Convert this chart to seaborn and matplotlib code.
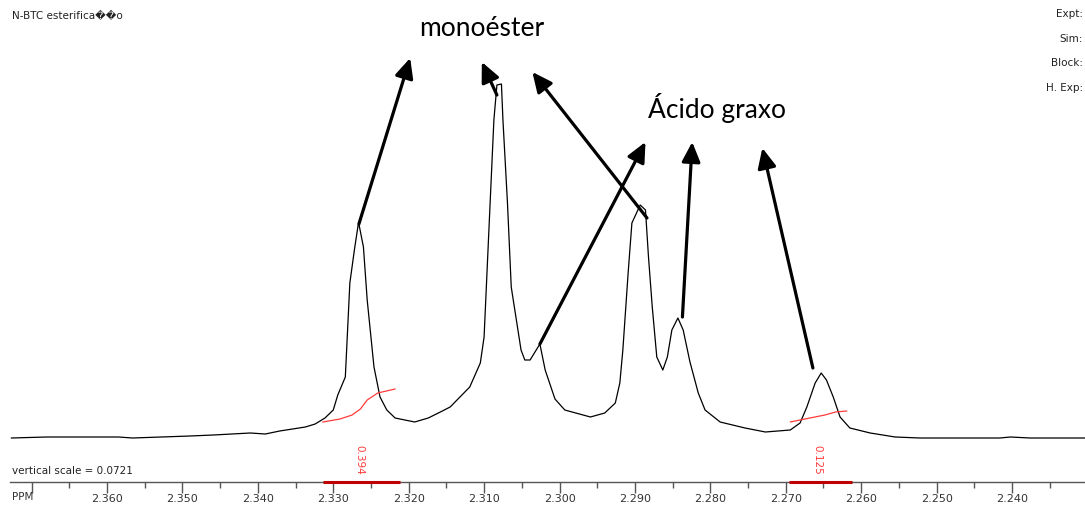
import numpy as np
import pandas as pd
import matplotlib
matplotlib.use("Agg")
import matplotlib.pyplot as plt
import seaborn as sns

# ---- data ----
ppm = [2.3727, 2.3680, 2.3585, 2.3566, 2.3490, 2.3459, 2.3410, 2.3390, 2.3371, 2.3337,
       2.3324, 2.3311, 2.3300, 2.3294, 2.3284, 2.3278, 2.3272, 2.3267, 2.3266, 2.3260,
       2.3255, 2.3246, 2.3238, 2.3229, 2.3218, 2.3192, 2.3174, 2.3158, 2.3145, 2.3119,
       2.3105, 2.3100, 2.3096, 2.3092, 2.3087, 2.3083, 2.3077, 2.3075, 2.3069, 2.3064,
       2.3051, 2.3046, 2.3039, 2.3026, 2.3019, 2.3006, 2.2993, 2.2959, 2.2940, 2.2926,
       2.2920, 2.2916, 2.2909, 2.2904, 2.2893, 2.2886, 2.2882, 2.2877, 2.2871, 2.2863,
       2.2857, 2.2851, 2.2843, 2.2836, 2.2827, 2.2816, 2.2807, 2.2787, 2.2754, 2.2727,
       2.2694, 2.2681, 2.2672, 2.2661, 2.2653, 2.2646, 2.2637, 2.2628, 2.2615, 2.2588,
       2.2555, 2.2522, 2.2416, 2.2402, 2.2376, 2.2303]
intensity = [0, 1, 1, 0, 2, 3, 5, 4, 7, 11,
             14, 20, 28, 43, 61, 155, 188, 213, 214, 191,
             138, 71, 41, 28, 20, 16, 20, 26, 31, 51,
             75, 101, 168, 235, 318, 353, 354, 318, 235, 151,
             88, 78, 78, 94, 68, 39, 28, 21, 25, 35,
             55, 88, 165, 215, 233, 228, 181, 131, 81, 68,
             81, 108, 120, 108, 76, 45, 28, 16, 10, 6,
             8, 15, 31, 55, 65, 58, 41, 21, 10, 5,
             1, 0, 0, 1, 0, 0]

# integral traces (red)
int1_ppm = [2.3314, 2.3291, 2.3275, 2.3264, 2.3255, 2.3241, 2.3218]
int1_val = [16, 19, 23, 29, 38, 45, 49]
int2_ppm = [2.2694, 2.2668, 2.2648, 2.2634, 2.2619]
int2_val = [16, 20, 23, 26, 27]

# integration regions and values
region_start = [2.3313, 2.2696]
region_end = [2.3211, 2.2612]
region_value = ["0.394", "0.125"]

# tick labels
major_ticks = [2.370, 2.360, 2.350, 2.340, 2.330, 2.320, 2.310, 2.300,
               2.290, 2.280, 2.270, 2.260, 2.250, 2.240]
major_labels = ["", "2.360", "2.350", "2.340", "2.330", "2.320", "2.310", "2.300",
                "2.290", "2.280", "2.270", "2.260", "2.250", "2.240"]

# annotation arrows: (tail ppm, tail intensity) -> (head ppm, head intensity)
arrow_tail_ppm = [2.3266, 2.3083, 2.2884, 2.3026, 2.2837, 2.2664]
arrow_tail_int = [214, 343, 220, 94, 121, 70]
arrow_head_ppm = [2.3198, 2.3103, 2.3036, 2.2886, 2.2824, 2.2731]
arrow_head_int = [380, 376, 366, 296, 296, 290]

# ---- figure ----
sns.set_style("white")
plt.rcParams['font.family'] = ['DejaVu Sans']

W, H = 1085, 507
fig = plt.figure(figsize=(W / 100, H / 100), dpi=100)
ax = fig.add_axes([10 / W, (H - 482) / H, (W - 10) / W, 482 / H])

df = pd.DataFrame({"ppm": ppm, "intensity": intensity})
sns.lineplot(data=df, x="ppm", y="intensity", sort=False, color="black",
             linewidth=0.9, ax=ax, estimator=None)
ax.plot(int1_ppm, int1_val, color="#ff3b3b", lw=0.9)
ax.plot(int2_ppm, int2_val, color="#ff3b3b", lw=0.9)

xmin_ppm = 2.360 + 97 / 7540
xmax_ppm = 2.240 - 73 / 7540
ax.set_xlim(xmin_ppm, xmax_ppm)
ymin = -44
ax.set_ylim(ymin, 438)

for s, e in zip(region_start, region_end):
    ax.plot([s, e], [ymin, ymin], color="#c00000", lw=2.2, clip_on=False,
            solid_capstyle="butt", zorder=5)
for s, e, v in zip(region_start, region_end, region_value):
    ax.text((s + e) / 2 + 0.0004, -22, v, rotation=270, color="#ff3b3b",
            fontsize=7.5, ha="center", va="center")

for tp, ti, hp, hi in zip(arrow_tail_ppm, arrow_tail_int, arrow_head_ppm, arrow_head_int):
    ax.annotate("", xy=(hp, hi), xytext=(tp, ti),
                arrowprops=dict(arrowstyle="-|>,head_length=0.6,head_width=0.28",
                                mutation_scale=20, lw=2.3, color="black",
                                shrinkA=0, shrinkB=0))

ax.set_xticks(major_ticks)
ax.set_xticklabels(major_labels)
ax.set_xticks([t + 0.005 for t in major_ticks[1:]] + [2.235], minor=True)
ax.tick_params(axis="x", which="major", direction="out", length=8, width=1,
               color="#555555", labelsize=8, labelcolor="#333333", pad=1,
               bottom=True)
ax.tick_params(axis="x", which="minor", direction="out", length=4, width=1,
               color="#555555", bottom=True)
ax.set_yticks([])
ax.set_xlabel("")
ax.set_ylabel("")
for side in ["top", "left", "right"]:
    ax.spines[side].set_visible(False)
ax.spines["bottom"].set_color("#555555")
ax.spines["bottom"].set_linewidth(1)
ax.patch.set_alpha(0)

def fx(px):
    return px / W

def fy(py):
    return 1 - py / H

fig.text(fx(12), fy(16), "N-BTC esterifica\ufffd\ufffdo", fontsize=7.5,
         color="#222222", va="center", ha="left")
for lab, py in zip(["Expt:", "Sim:", "Block:", "H. Exp:"], [14, 39, 63, 88]):
    fig.text(fx(1083), fy(py), lab, fontsize=7.5, color="#222222",
             va="center", ha="right")
fig.text(fx(12), fy(471), "vertical scale = 0.0721", fontsize=7.5,
         color="#222222", va="center", ha="left")
fig.text(fx(12), fy(497), "PPM", fontsize=7.5, color="#333333",
         va="center", ha="left")

fig.text(fx(482), fy(28), "monoéster", fontsize=19, family=["Lato", "DejaVu Sans"],
         color="black", ha="center", va="center")
fig.text(fx(717), fy(108), "Ácido graxo", fontsize=19, family=["Lato", "DejaVu Sans"],
         color="black", ha="center", va="center")

fig.savefig("out.png", dpi=100)
